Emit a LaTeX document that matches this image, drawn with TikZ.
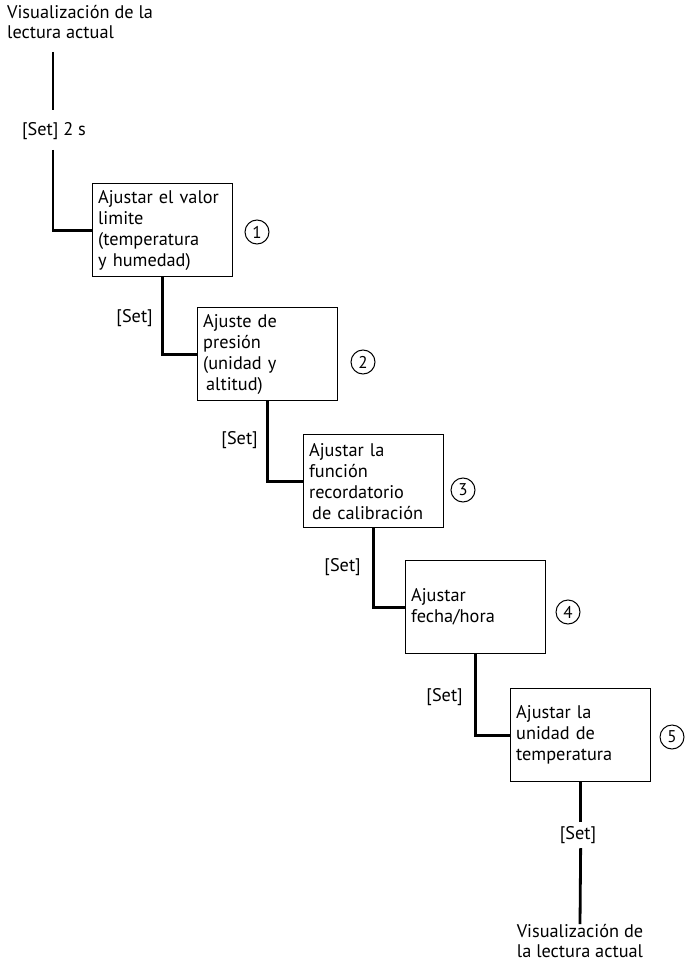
\documentclass[tikz,border=0pt]{standalone}
\usepackage{fontspec}
\setmainfont{PT Sans}
\begin{document}
\begin{tikzpicture}[x=1pt,y=-1pt,
  conn/.style={line width=2.8pt},
  stepbox/.style={draw, line width=1.3pt, minimum width=140pt, minimum height=93pt,
    text width=129pt, align=left, inner xsep=5.5pt, inner ysep=0pt,
    font=\fontsize{18.3}{21}\selectfont, anchor=north west},
  lbl/.style={font=\fontsize{18.3}{20.5}\selectfont, inner sep=0pt},
  num/.style={circle, draw, line width=1pt, minimum size=24pt, inner sep=0pt,
    font=\fontsize{17}{17}\selectfont}]
\useasboundingbox (0,0) rectangle (685,965);

% start text
\node[lbl, align=left, anchor=north west] (start) at (7,5)
  {Visualización de la\\lectura actual};
\coordinate (a0) at (53,52);
\coordinate (a1) at (53,110);
\node[lbl] (s0) at (54,131) {[Set] 2 s};
\coordinate (a2) at (53,150);

% boxes
\node[stepbox] (b1) at (92,183) {Ajustar el valor\\limite\\(temperatura\\y humedad)};
\node[stepbox] (b2) at (197,307) {Ajuste de\\presión\\(unidad y\\\hspace*{3pt}altitud)};
\node[stepbox] (b3) at (303,434) {Ajustar la\\función\\recordatorio\\\hspace*{3pt}de calibración};
\node[stepbox] (b4) at (405,560) {Ajustar\\fecha/hora\\[8pt]};
\node[stepbox] (b5) at (510,688) {Ajustar la\\unidad de\\temperatura};

% circled numbers
\node[num] (n1) at (257,232) {1};
\node[num] (n2) at (363,362) {2};
\node[num] (n3) at (463,490) {3};
\node[num] (n4) at (568,612) {4};
\node[num] (n5) at (672,737) {5};

% connectors
\draw[conn] (a0) -- (a1);
\draw[conn] (a2) |- (b1.west);
\draw[conn] (b1.south) |- (b2.west);
\draw[conn] (b2.south) |- (b3.west);
\draw[conn] (b3.south) |- (b4.west);
\draw[conn] (b4.south) |- (b5.west);

% set labels
\node[lbl, anchor=east] (s1) at (153,318) {[Set]};
\node[lbl, anchor=east] (s2) at (258,440) {[Set]};
\node[lbl, anchor=east] (s3) at (361,567) {[Set]};
\node[lbl, anchor=east] (s4) at (463,697) {[Set]};

% end
\coordinate (e0) at (b5.south |- 0,822);
\node[lbl] (s5) at (578,835) {[Set]};
\coordinate (e1) at (b5.south |- 0,848);
\node[lbl, align=center, anchor=north] (end) at (580,924)
  {Visualización de\\la lectura actual};
\draw[conn] (b5.south) -- (e0);
\draw[conn] (e1) -- (end.north);
\end{tikzpicture}
\end{document}
